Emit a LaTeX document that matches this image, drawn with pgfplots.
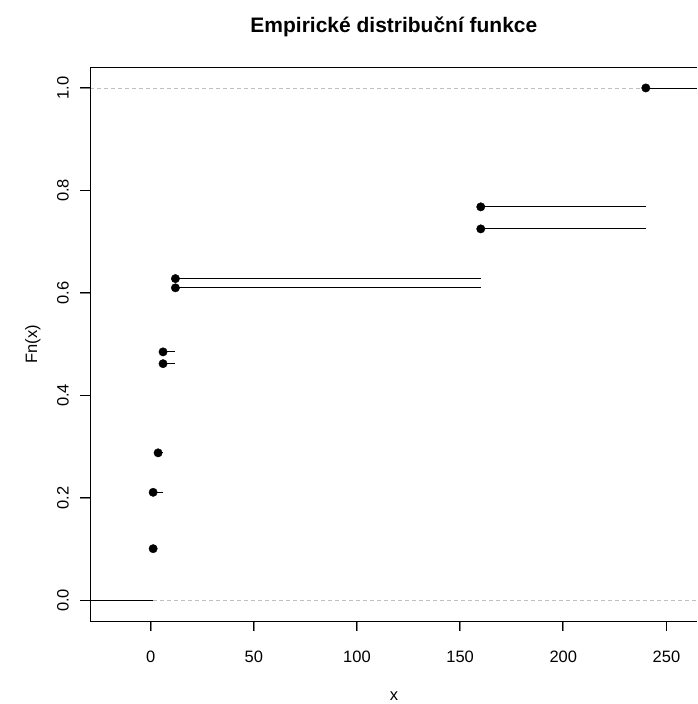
\documentclass[border=0pt]{standalone}
\usepackage{fontspec}
\setmainfont{Liberation Sans}
\usepackage{pgfplots}
\pgfplotsset{compat=1.18}
\usetikzlibrary{calc}
\begin{document}
\begin{tikzpicture}
\begin{axis}[
  scale only axis, width=607.5pt, height=555pt,
  xmin=-29.2, xmax=265, ymin=-0.041, ymax=1.041,
  axis line style={draw=none},
  tick pos=left,
  tick align=outside, major tick length=10pt,
  xtick={0,50,100,150,200,250},
  ytick={0,0.2,0.4,0.6,0.8,1.0},
  yticklabel={\pgfmathprintnumber[fixed,fixed zerofill,precision=1]{\tick}},
  ticklabel style={font=\fontsize{16.5}{19}\selectfont},
  xticklabel style={anchor=center, yshift=-25pt},
  yticklabel style={rotate=90, anchor=center, yshift=17.5pt},
  title={Empirické distribuční funkce},
  title style={font=\bfseries\fontsize{21}{24}\selectfont, at={(axis description cs:0.5,1.061)}, anchor=center},
  xlabel={x},
  ylabel={Fn(x)},
  xlabel style={font=\fontsize{16.5}{19}\selectfont, at={(axis description cs:0.5,-0.135)}, anchor=center},
  ylabel style={font=\fontsize{16.5}{19}\selectfont, at={(axis description cs:-0.0947,0.5)}, anchor=center, rotate=0},
  unbounded coords=jump,
  clip=true,
  /pgf/number format/assume math mode=true,
]
\addplot[gray!50, line width=0.8pt, dash pattern=on 4pt off 3pt] coordinates {(-29.2,0) (265,0)};
\addplot[gray!50, line width=0.8pt, dash pattern=on 4pt off 3pt] coordinates {(-29.2,1) (265,1)};
\addplot[black, line width=0.8pt, no marks] coordinates {
 (-29.2,0) (1.2,0) (1.2,nan)
 (1.2,0.211) (6,0.211) (6,nan)
 (3.6,0.288) (6,0.288) (6,nan)
 (6,0.462) (12,0.462) (12,nan)
 (6,0.485) (12,0.485) (12,nan)
 (12,0.610) (160,0.610) (160,nan)
 (12,0.628) (160,0.628) (160,nan)
 (160,0.725) (240,0.725) (240,nan)
 (160,0.768) (240,0.768) (240,nan)
 (240,1.0) (265,1.0)
};
\addplot[only marks, mark=*, mark size=4.2pt, black] coordinates {
 (1.2,0.101) (1.2,0.211) (3.6,0.288) (6,0.462) (6,0.485)
 (12,0.610) (12,0.628) (160,0.725) (160,0.768) (240,1.0)
};
\coordinate (bl) at (rel axis cs:0,0);
\coordinate (tr) at (rel axis cs:1,1);
\coordinate (tl) at (rel axis cs:0,1);
\coordinate (br) at (rel axis cs:1,0);
\end{axis}
\draw[black, line width=0.8pt] (tr) -- (tl) -- (bl) -- (br);
\foreach \f in {0.09925,0.26907,0.43888,0.60870,0.77852,0.94834}{
  \draw[black, line width=1pt] ($(bl)!\f!(br)$) -- ($(bl)!\f!(br)+(0pt,-10pt)$);
}
\foreach \f in {0.03789,0.22274,0.40758,0.59242,0.77726,0.96211}{
  \draw[black, line width=1pt] ($(bl)!\f!(tl)$) -- ($(bl)!\f!(tl)+(-10pt,0pt)$);
}
\path ($(bl)+(-90.5pt,-82pt)$) rectangle ($(tr)+(0pt,67pt)$);
\end{tikzpicture}
\end{document}
